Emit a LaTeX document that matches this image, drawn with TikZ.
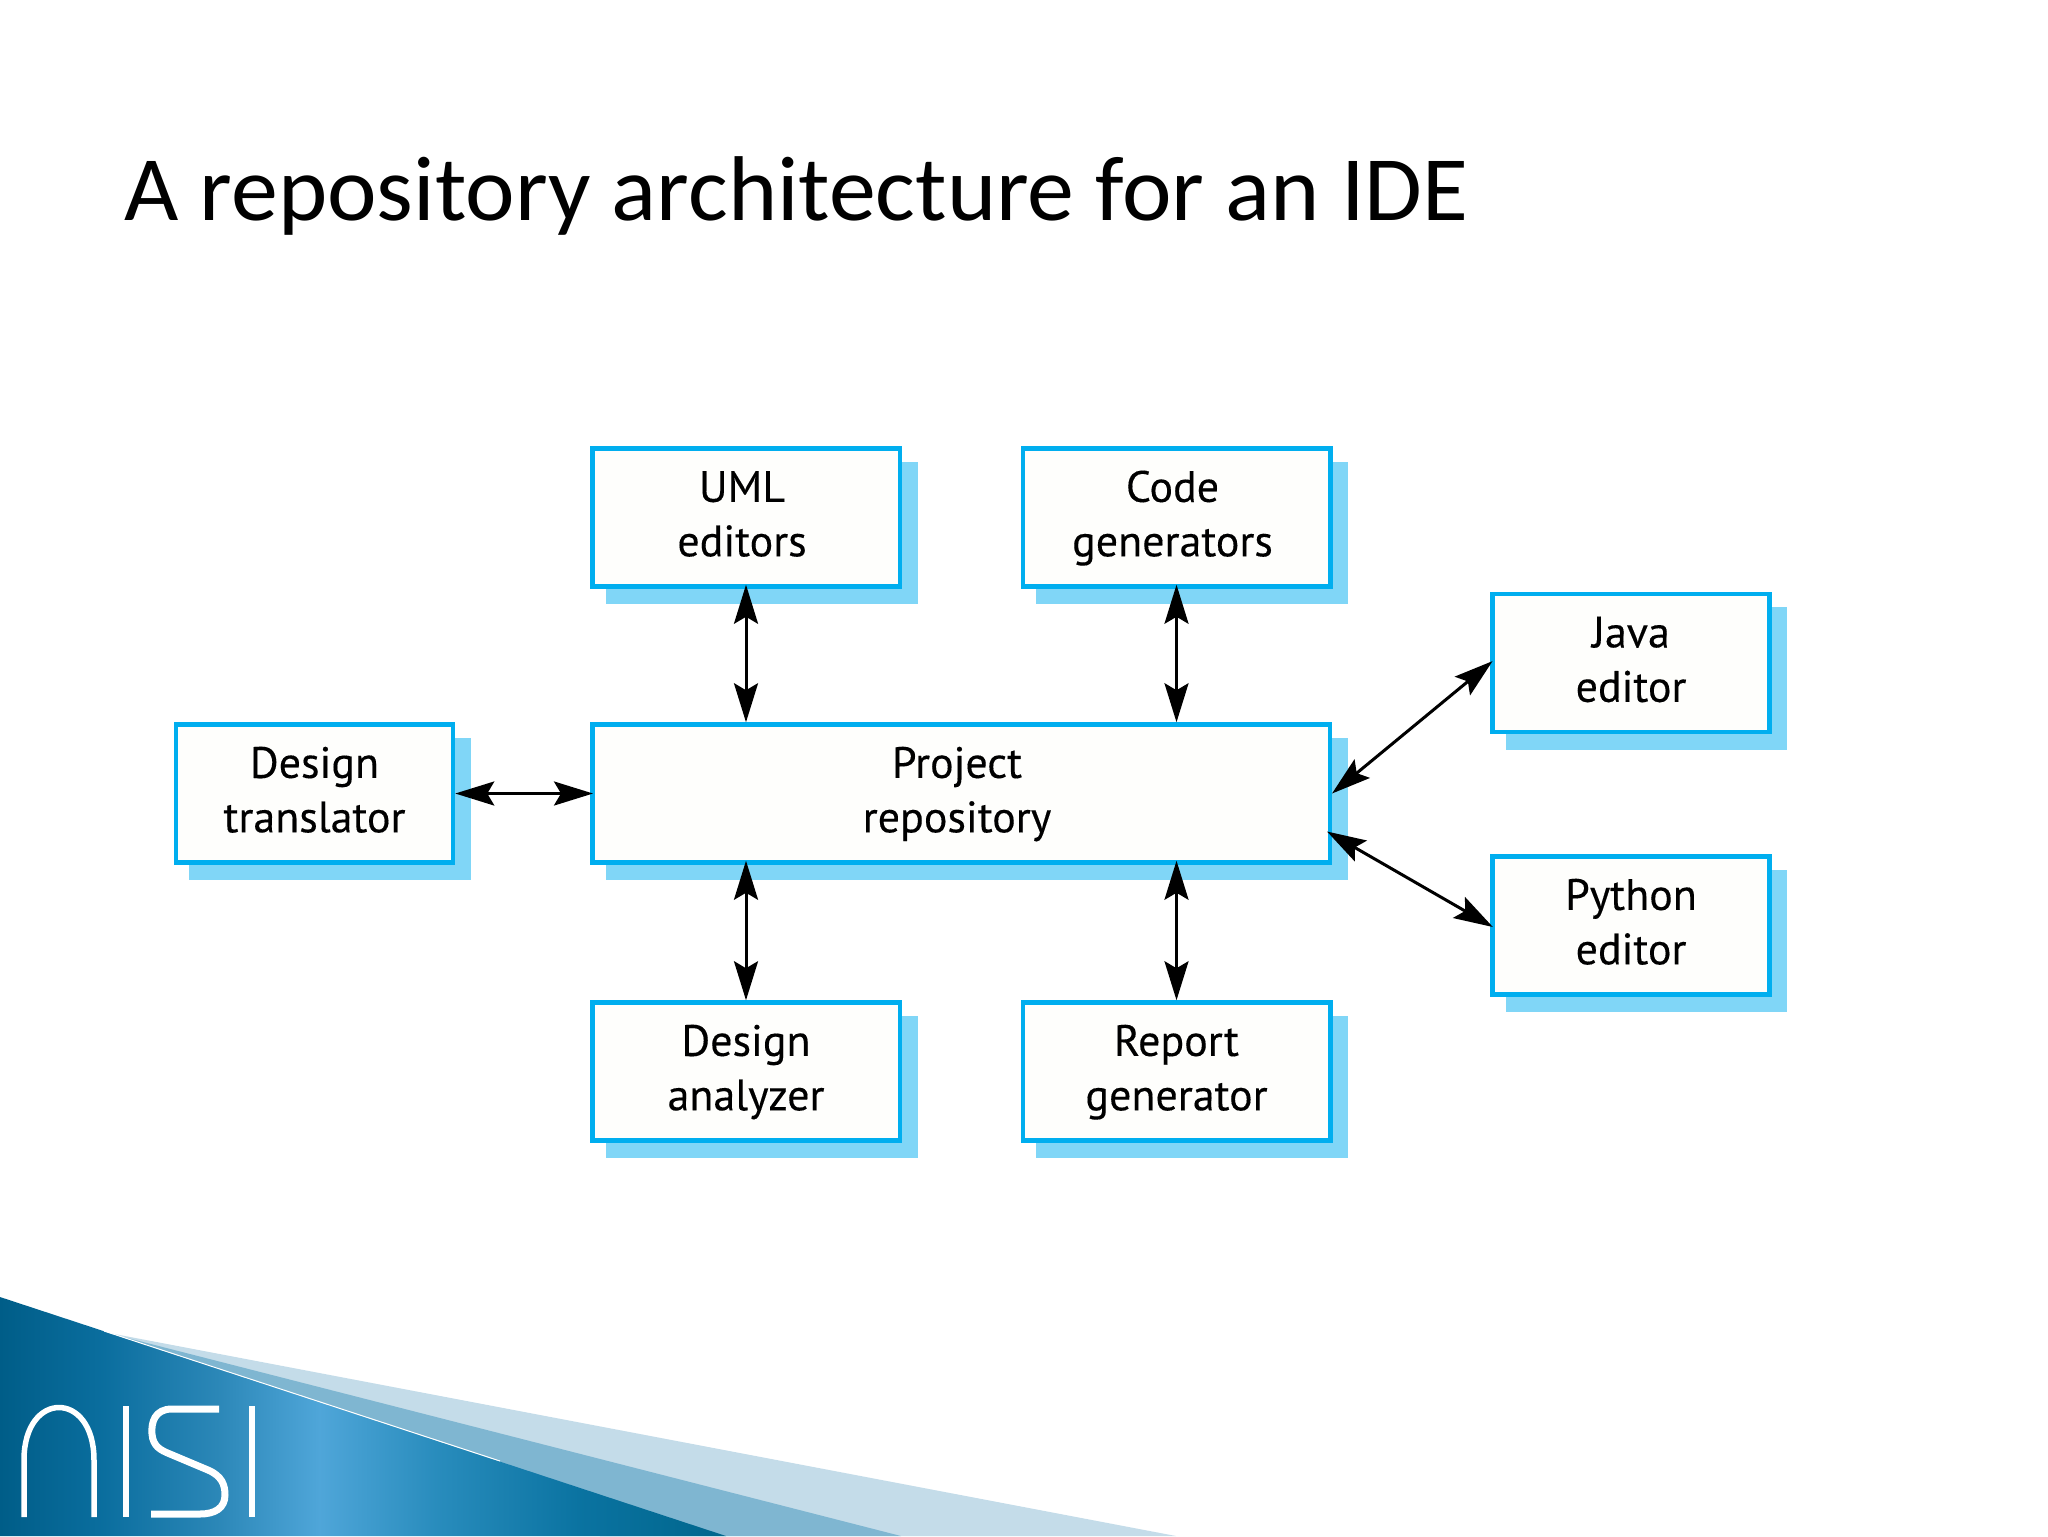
\documentclass[tikz,border=0pt]{standalone}
\usepackage{fontspec}
\usetikzlibrary{arrows.meta,shadows}
\newfontfamily\titlefont[FakeStretch=1.02]{Carlito}
\newfontfamily\boxfont[FakeBold=0.25]{PT Sans}
\newlength{\du}
\setlength{\du}{0.5pt}
\newcommand{\nudge}{\hspace*{8\du}}
\definecolor{boxline}{rgb}{0.000000, 0.682000, 0.937000}
\definecolor{boxshadow}{rgb}{0.502000, 0.839000, 0.969000}
\definecolor{boxfill}{rgb}{0.996000, 0.996000, 0.988000}
\definecolor{palewedge}{rgb}{0.769000, 0.863000, 0.914000}
\definecolor{midwedge}{rgb}{0.498000, 0.714000, 0.820000}
\pgfdeclarehorizontalshading{nisiband}{100bp}{
  rgb(0bp)=(0.000,0.365,0.533);
  rgb(25bp)=(0.000,0.365,0.533);
  rgb(32bp)=(0.040,0.430,0.620);
  rgb(40bp)=(0.170,0.530,0.720);
  rgb(47bp)=(0.310,0.650,0.850);
  rgb(55bp)=(0.160,0.550,0.740);
  rgb(65bp)=(0.040,0.450,0.630);
  rgb(75bp)=(0.000,0.400,0.550);
  rgb(100bp)=(0.000,0.400,0.550)}
\tikzset{
  boxnode/.style={draw=boxline, fill=boxfill, line width=4.5\du, align=center,
    inner sep=0pt, font=\boxfont\fontsize{22pt}{27.2pt}\selectfont,
    minimum width=277\du, minimum height=138\du, text height=44pt, text depth=5.2pt,
    copy shadow={shadow xshift=15.5\du, shadow yshift=-15.5\du, draw=boxshadow, fill=boxshadow}},
  boxwide/.style={boxnode, minimum width=307.5\du},
  repo/.style={{Stealth[length=19.5pt,width=12pt,inset=3.5pt]}-{Stealth[length=19.5pt,width=12pt,inset=3.5pt]}, line width=3\du, black},
  logo/.style={draw=white, line width=5.5\du}
}

\begin{document}
\begin{tikzpicture}
\pgftransformxscale{1.000000}
\pgftransformyscale{-1.000000}
\useasboundingbox (0\du,0\du) rectangle (2048\du,1536\du);
% wedges
\fill[palewedge] (104\du,1332\du)--(1176\du,1536\du)--(600\du,1536\du)--cycle;
\fill[midwedge] (104\du,1332\du)--(901\du,1536\du)--(600\du,1536\du)--cycle;
\shade[shading=nisiband] (0\du,1297\du)--(726\du,1536\du)--(0\du,1536\du)--cycle;
\draw[white, line width=1\du] (104\du,1331\du)--(500\du,1461\du);
% logo
\draw[logo] (24\du,1517\du)--(24\du,1460\du) .. controls (24\du,1390\du) and (94\du,1390\du) .. (94\du,1460\du)--(94\du,1517\du);
\draw[logo] (126\du,1406\du)--(126\du,1517\du);
\draw[logo, line width=7\du] (219\du,1409\du)--(172\du,1409\du) .. controls (155\du,1409\du) and (151\du,1422\du) .. (152\du,1434\du) .. controls (153\du,1446\du) and (160\du,1450\du) .. (170\du,1454\du)--(208\du,1470\du) .. controls (222\du,1476\du) and (225\du,1485\du) .. (225\du,1495\du) .. controls (225\du,1508\du) and (215\du,1514\du) .. (200\du,1514\du)--(151\du,1514\du);
\draw[logo] (252\du,1406\du)--(252\du,1517\du);
% title
\node[anchor=base west, inner sep=0pt, font=\titlefont\fontsize{46pt}{50pt}\selectfont] (title) at (124\du,220\du){A repository architecture for an IDE};
% boxes
\node[boxwide] (uml) at (746\du,517.5\du){UML\nudge\\editors\nudge};
\node[boxwide] (code) at (1176.5\du,517.5\du){Code\nudge\\generators\nudge};
\node[boxnode] (java) at (1631\du,663\du){Java\\editor};
\node[boxnode] (translator) at (314.5\du,793.5\du){Design\\translator};
\node[boxnode, minimum width=737.5\du] (project) at (961\du,793.5\du){Project\nudge\\repository\nudge};
\node[boxnode] (python) at (1631\du,925.5\du){Python\\editor};
\node[boxwide] (analyzer) at (746\du,1071.5\du){Design\\analyzer};
\node[boxwide] (report) at (1176.5\du,1071.5\du){Report\\generator};
% connectors
\draw[repo, shorten <=-4\du] (uml.south)--(uml.south |- project.north);
\draw[repo, shorten <=-4\du] (code.south)--(code.south |- project.north);
\draw[repo, shorten >=-3\du] (translator.east)--(project.west);
\draw[repo, shorten <=-4\du] (analyzer.north |- project.south)--(analyzer.north);
\draw[repo, shorten <=-4\du] (report.north |- project.south)--(report.north);
\draw[repo, shorten >=-3\du] (project.east)--(java.west);
\draw[repo, shorten >=-3\du] ([xshift=-5\du,yshift=38\du]project.east)--(python.west);
\end{tikzpicture}
\end{document}
